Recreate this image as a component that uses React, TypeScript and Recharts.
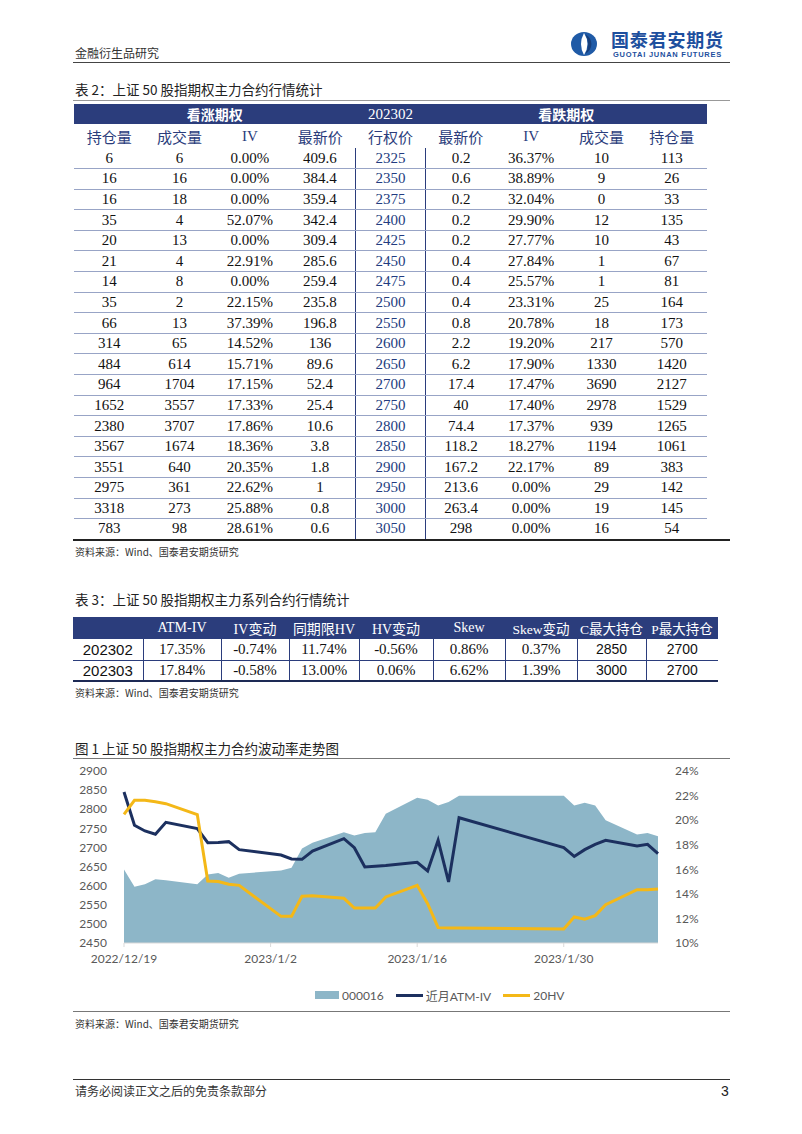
import {
  Area,
  ComposedChart,
  Legend,
  Line,
  XAxis,
  YAxis,
} from "recharts";

// ---- 表 2 data ----
const callOI = [6, 16, 16, 35, 20, 21, 14, 35, 66, 314, 484, 964, 1652, 2380, 3567, 3551, 2975, 3318, 783];
const callVol = [6, 16, 18, 4, 13, 4, 8, 2, 13, 65, 614, 1704, 3557, 3707, 1674, 640, 361, 273, 98];
const callIV = ["0.00%", "0.00%", "0.00%", "52.07%", "0.00%", "22.91%", "0.00%", "22.15%", "37.39%", "14.52%", "15.71%", "17.15%", "17.33%", "17.86%", "18.36%", "20.35%", "22.62%", "25.88%", "28.61%"];
const callPrice = ["409.6", "384.4", "359.4", "342.4", "309.4", "285.6", "259.4", "235.8", "196.8", "136", "89.6", "52.4", "25.4", "10.6", "3.8", "1.8", "1", "0.8", "0.6"];
const strikes = [2325, 2350, 2375, 2400, 2425, 2450, 2475, 2500, 2550, 2600, 2650, 2700, 2750, 2800, 2850, 2900, 2950, 3000, 3050];
const putPrice = ["0.2", "0.6", "0.2", "0.2", "0.2", "0.4", "0.4", "0.4", "0.8", "2.2", "6.2", "17.4", "40", "74.4", "118.2", "167.2", "213.6", "263.4", "298"];
const putIV = ["36.37%", "38.89%", "32.04%", "29.90%", "27.77%", "27.84%", "25.57%", "23.31%", "20.78%", "19.20%", "17.90%", "17.47%", "17.40%", "17.37%", "18.27%", "22.17%", "0.00%", "0.00%", "0.00%"];
const putVol = [10, 9, 0, 12, 10, 1, 1, 25, 18, 217, 1330, 3690, 2978, 939, 1194, 89, 29, 19, 16];
const putOI = [113, 26, 33, 135, 43, 67, 81, 164, 173, 570, 1420, 2127, 1529, 1265, 1061, 383, 142, 145, 54];
const table2Heads = ["持仓量", "成交量", "IV", "最新价", "行权价", "最新价", "IV", "成交量", "持仓量"];

// ---- 表 3 data ----
const table3Heads = ["", "ATM-IV", "IV变动", "同期限HV", "HV变动", "Skew", "Skew变动", "C最大持仓", "P最大持仓"];
const seriesNames = ["202302", "202303"];
const atmIVs = ["17.35%", "17.84%"];
const ivChanges = ["-0.74%", "-0.58%"];
const sameTermHV = ["11.74%", "13.00%"];
const hvChanges = ["-0.56%", "0.06%"];
const skews = ["0.86%", "6.62%"];
const skewChanges = ["0.37%", "1.39%"];
const callMaxOI = [2850, 3000];
const putMaxOI = [2700, 2700];

// ---- 图 1 data ----
const dates = [
  "2022-12-19", "2022-12-20", "2022-12-21", "2022-12-22", "2022-12-23",
  "2022-12-26", "2022-12-27", "2022-12-28", "2022-12-29", "2022-12-30",
  "2023-01-03", "2023-01-04", "2023-01-05", "2023-01-06",
  "2023-01-09", "2023-01-10", "2023-01-11", "2023-01-12", "2023-01-13",
  "2023-01-16", "2023-01-17", "2023-01-18", "2023-01-19", "2023-01-20",
  "2023-01-30", "2023-01-31", "2023-02-01", "2023-02-02", "2023-02-03",
  "2023-02-06", "2023-02-07", "2023-02-08",
];
const index000016 = [
  2642, 2597, 2604, 2617, 2614, 2604, 2629, 2633, 2621, 2631,
  2640, 2647, 2697, 2712, 2740, 2731, 2738, 2740, 2788,
  2830, 2825, 2810, 2819, 2835, 2835, 2810, 2817, 2810, 2771,
  2734, 2738, 2729,
];
const atmIV = [
  22.29, 19.58, 19.12, 18.85, 19.82, 19.31, 18.17, 18.19, 18.25, 17.6,
  17.16, 16.84, 16.81, 17.49, 18.49, 17.76, 16.19, 16.24, 16.3,
  16.57, 15.86, 18.36, 14.97, 20.2, 17.76, 17.05, 17.6, 18.03, 18.36,
  17.9, 18.03, 17.27,
];
const hv20 = [
  20.47, 21.61, 21.61, 21.5, 21.34, 20.45, 15.05, 15.0, 14.78, 14.69,
  12.17, 12.17, 13.8, 13.85, 13.64, 12.85, 12.85, 12.85, 13.75,
  14.69, 13.2, 11.25, 11.23, 11.23, 11.14, 12.12, 11.93, 12.23, 13.12,
  14.34, 14.34, 14.4,
];
const tickDates = ["2022-12-19", "2023-01-02", "2023-01-16", "2023-01-30"];
const tickLabels = ["2022/12/19", "2023/1/2", "2023/1/16", "2023/1/30"];
const leftTicks = [2450, 2500, 2550, 2600, 2650, 2700, 2750, 2800, 2850, 2900];
const rightTicks = [10, 12, 14, 16, 18, 20, 22, 24];

const NAVY = "#2b3d7c";
const AREA = "#8db6c8";
const IVLINE = "#1c305f";
const HVLINE = "#f4b817";
const SERIF = '"Liberation Serif", "Noto Sans CJK SC", serif';
const SANS = '"Noto Sans CJK SC", sans-serif';
const CHART_FONT = 'Lato, "Noto Sans CJK SC", sans-serif';

const dayOf = (s: string) => {
  const [y, m, d] = s.split("-").map(Number);
  return (Date.UTC(y, m - 1, d) - Date.UTC(2022, 11, 19)) / 86400000;
};
const chartData = dates.map((d, i) => ({
  day: dayOf(d),
  sz50: index000016[i],
  atm: atmIV[i],
  hv: hv20[i],
}));
const xTicks = tickDates.map(dayOf);

const Text = ({ x, y, size, lh = 1.3, children, style }: any) => (
  <div
    style={{
      position: "absolute",
      left: x,
      top: y - (size * lh) / 2,
      height: size * lh,
      lineHeight: `${size * lh}px`,
      fontSize: size,
      whiteSpace: "nowrap",
      ...style,
    }}
  >
    {children}
  </div>
);

const HLine = ({ y, x1 = 73, x2 = 730, w = 1, color = "#333" }: any) => (
  <div style={{ position: "absolute", left: x1, top: y, width: x2 - x1, height: w, background: color }} />
);

const Table2 = () => {
  const cell = { padding: 0, textAlign: "center" as const, overflow: "hidden" };
  return (
    <table
      style={{
        position: "absolute",
        left: 74,
        top: 104,
        width: 633,
        borderCollapse: "collapse",
        tableLayout: "fixed",
        fontFamily: SERIF,
        fontSize: 15,
        color: "#111",
      }}
    >
      <tbody>
        <tr style={{ height: 20, background: NAVY, color: "#fff", fontWeight: 700, fontSize: 14 }}>
          <td colSpan={4} style={cell}>看涨期权</td>
          <td style={{ ...cell, fontSize: 15, fontWeight: 400 }}>202302</td>
          <td colSpan={4} style={cell}>看跌期权</td>
        </tr>
        <tr style={{ height: 24, color: NAVY, fontSize: 15 }}>
          {table2Heads.map((h, i) => (
            <td key={i} style={{ ...cell, width: 633 / 9 }}>{h}</td>
          ))}
        </tr>
        {strikes.map((k, i) => {
          const last = i === strikes.length - 1;
          const line = last ? `1px solid ${NAVY}` : "1px solid #98a4c6";
          const c = { ...cell, borderBottom: line };
          return (
            <tr key={k} style={{ height: 20.6 }}>
              <td style={c}>{callOI[i]}</td>
              <td style={c}>{callVol[i]}</td>
              <td style={c}>{callIV[i]}</td>
              <td style={c}>{callPrice[i]}</td>
              <td
                style={{
                  ...c,
                  color: "#233c80",
                  borderLeft: `1.5px solid ${NAVY}`,
                  borderRight: `1.5px solid ${NAVY}`,
                }}
              >
                {k}
              </td>
              <td style={c}>{putPrice[i]}</td>
              <td style={c}>{putIV[i]}</td>
              <td style={c}>{putVol[i]}</td>
              <td style={c}>{putOI[i]}</td>
            </tr>
          );
        })}
      </tbody>
    </table>
  );
};

const Table3 = () => {
  const widths = [70, 78, 68, 70, 74, 72, 72, 69, 72];
  const cell = { padding: 0, textAlign: "center" as const, whiteSpace: "nowrap" as const };
  return (
    <table
      style={{
        position: "absolute",
        left: 73,
        top: 617,
        width: 645,
        borderCollapse: "collapse",
        tableLayout: "fixed",
        fontFamily: SERIF,
        fontSize: 15,
        color: "#111",
      }}
    >
      <tbody>
        <tr style={{ height: 22, background: NAVY, color: "#fff", fontSize: 14 }}>
          {table3Heads.map((h, i) => (
            <td key={i} style={{ ...cell, width: widths[i], fontSize: i >= 6 ? 13.5 : 14 }}>{h}</td>
          ))}
        </tr>
        {seriesNames.map((s, i) => {
          const b = i === seriesNames.length - 1 ? "2px solid #1d2a55" : `1px solid ${NAVY}`;
          const c = { ...cell, borderBottom: b, borderRight: `1px solid ${NAVY}` };
          const sans = { ...c, fontFamily: '"Liberation Sans", sans-serif', fontSize: 14 };
          return (
            <tr key={s} style={{ height: 21 }}>
              <td style={{ ...sans, fontSize: 15 }}>{s}</td>
              <td style={c}>{atmIVs[i]}</td>
              <td style={c}>{ivChanges[i]}</td>
              <td style={c}>{sameTermHV[i]}</td>
              <td style={c}>{hvChanges[i]}</td>
              <td style={c}>{skews[i]}</td>
              <td style={c}>{skewChanges[i]}</td>
              <td style={sans}>{callMaxOI[i]}</td>
              <td style={{ ...sans, borderRight: "none" }}>{putMaxOI[i]}</td>
            </tr>
          );
        })}
      </tbody>
    </table>
  );
};

const LegendBox = () => {
  const item = { display: "flex", alignItems: "center" };
  const label = { fontSize: 12, color: "#595959", marginLeft: 3, marginRight: 12 };
  return (
    <div style={{ height: 20, display: "flex", alignItems: "center", paddingLeft: 251, fontFamily: CHART_FONT }}>
      <div style={item}>
        <div style={{ width: 24, height: 8, background: AREA }} />
        <span style={label}>000016</span>
      </div>
      <div style={item}>
        <div style={{ width: 27, height: 3, background: IVLINE }} />
        <span style={label}>近月ATM-IV</span>
      </div>
      <div style={item}>
        <div style={{ width: 27, height: 3, background: HVLINE }} />
        <span style={label}>20HV</span>
      </div>
    </div>
  );
};

const VolChart = () => (
  <div style={{ position: "absolute", left: 60, top: 755 }}>
    <ComposedChart width={660} height={250} data={chartData} margin={{ top: 16, right: 12, bottom: 0, left: 4 }}>
      <XAxis
        dataKey="day"
        type="number"
        domain={[0, 51]}
        ticks={xTicks}
        tickFormatter={(v: number) => tickLabels[xTicks.indexOf(v)]}
        height={42}
        tickSize={4}
        tickMargin={7}
        stroke="#d9d9d9"
        tick={{ fill: "#595959", fontSize: 12, fontFamily: CHART_FONT }}
      />
      <YAxis
        yAxisId="left"
        domain={[2450, 2900]}
        ticks={leftTicks}
        interval={0}
        width={60}
        axisLine={false}
        tickLine={false}
        tickSize={6}
        tickMargin={11}
        tick={{ fill: "#595959", fontSize: 12, fontFamily: CHART_FONT }}
      />
      <YAxis
        yAxisId="right"
        orientation="right"
        domain={[10, 24]}
        ticks={rightTicks}
        interval={0}
        tickFormatter={(v: number) => `${v}%`}
        width={50}
        axisLine={false}
        tickLine={false}
        tickSize={6}
        tickMargin={11}
        tick={{ fill: "#595959", fontSize: 12, fontFamily: CHART_FONT, textAnchor: "start" }}
      />
      <Area
        yAxisId="left"
        dataKey="sz50"
        name="000016"
        type="linear"
        fill={AREA}
        fillOpacity={1}
        stroke="none"
        isAnimationActive={false}
      />
      <Line
        yAxisId="right"
        dataKey="atm"
        name="近月ATM-IV"
        type="linear"
        stroke={IVLINE}
        strokeWidth={3}
        dot={false}
        isAnimationActive={false}
      />
      <Line
        yAxisId="right"
        dataKey="hv"
        name="20HV"
        type="linear"
        stroke={HVLINE}
        strokeWidth={3}
        dot={false}
        isAnimationActive={false}
      />
      <Legend verticalAlign="bottom" height={20} content={() => <LegendBox />} />
    </ComposedChart>
  </div>
);

const Logo = () => (
  <>
    <svg style={{ position: "absolute", left: 570, top: 31 }} width={28} height={26} viewBox="0 0 28 26">
      <ellipse cx={14} cy={13} rx={13} ry={12} fill="#1f5aa6" />
      <path d="M14 2 Q21 13 14 24 Q8 13 14 2 Z" fill="#fff" />
      <path d="M15.5 3.5 Q21 13 15.5 22.5 A12 11 0 0 0 15.5 3.5 Z" fill="#173e7a" />
    </svg>
    <Text x={611} y={39} size={18} lh={1.15} style={{ fontFamily: SANS, fontWeight: 700, color: "#1d4f9e", letterSpacing: 0.8 }}>
      国泰君安期货
    </Text>
    <Text x={613} y={54} size={7.5} lh={1.2} style={{ fontFamily: '"Liberation Sans", sans-serif', fontWeight: 700, color: "#1d4f9e", letterSpacing: 0.75 }}>
      GUOTAI JUNAN FUTURES
    </Text>
  </>
);

export default function App() {
  const title = { fontFamily: SANS, color: "#222" };
  const src = { fontFamily: SANS, color: "#333" };
  return (
    <div
      style={{
        position: "absolute",
        left: 0,
        top: 0,
        width: 802,
        height: 1134,
        background: "#fff",
        overflow: "hidden",
        fontFamily: SANS,
      }}
    >
      <Text x={75} y={53} size={12} style={src}>金融衍生品研究</Text>
      <Logo />
      <HLine y={62} color="#444" />

      <Text x={75} y={90} size={13.5} style={title}>表 2：上证 50 股指期权主力合约行情统计</Text>
      <HLine y={100} color="#999" />
      <Table2 />
      <HLine y={539} w={2} color="#222" />
      <Text x={75} y={551} size={10} style={src}>资料来源：Wind、国泰君安期货研究</Text>

      <Text x={75} y={600} size={13.5} style={title}>表 3：上证 50 股指期权主力系列合约行情统计</Text>
      <Table3 />
      <Text x={75} y={692} size={10} style={src}>资料来源：Wind、国泰君安期货研究</Text>

      <Text x={75} y={749} size={13.5} style={title}>图 1 上证 50 股指期权主力合约波动率走势图</Text>
      <HLine y={758} color="#777" />
      <VolChart />
      <HLine y={1011} color="#777" />
      <Text x={75} y={1023} size={10} style={src}>资料来源：Wind、国泰君安期货研究</Text>

      <HLine y={1079} color="#333" />
      <Text x={75} y={1091} size={12} style={src}>请务必阅读正文之后的免责条款部分</Text>
      <Text x={721} y={1091} size={14} style={{ fontFamily: '"Liberation Sans", sans-serif', color: "#222" }}>3</Text>
    </div>
  );
}
